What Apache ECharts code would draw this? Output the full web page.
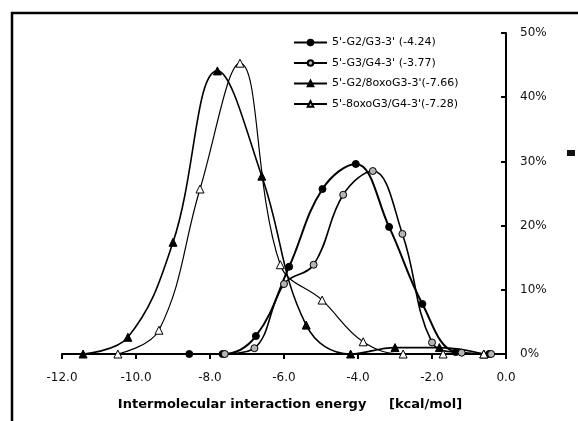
<!DOCTYPE html>
<html>
<head>
<meta charset="utf-8">
<script src="https://cdn.jsdelivr.net/npm/echarts@6/dist/echarts.min.js"></script>
<style>
  html, body { margin: 0; padding: 0; background: #fff; }
  #chart { width: 578px; height: 421px; }
</style>
</head>
<body>
<div id="chart"></div>
<script>
// values (x: kcal/mol, y: %)
var names = [
  "5'-G2/G3-3' (-4.24)",
  "5'-G3/G4-3' (-3.77)",
  "5'-G2/8oxoG3-3'(-7.66)",
  "5'-8oxoG3/G4-3'(-7.28)"
];
var g2g3X = [-8.56, -7.66, -6.76, -5.86, -4.96, -4.06, -3.16, -2.26, -1.36, -0.46];
var g2g3Y = [0, 0, 2.8, 13.6, 25.7, 29.6, 19.8, 7.8, 0.3, 0];
var g3g4X = [-7.6, -6.8, -6.0, -5.2, -4.4, -3.6, -2.8, -2.0, -1.2, -0.4];
var g3g4Y = [0, 0.9, 10.9, 13.9, 24.8, 28.5, 18.7, 1.8, 0.2, 0];
var oxoG3X = [-11.43, -10.22, -9.0, -7.8, -6.6, -5.4, -4.2, -3.0, -1.8, -0.6];
var oxoG3Y = [0, 2.6, 17.4, 44.1, 27.7, 4.5, 0, 1.0, 1.0, 0];
var oxoG4X = [-10.49, -9.38, -8.27, -7.19, -6.1, -4.97, -3.86, -2.78, -1.7, -0.6];
var oxoG4Y = [0, 3.7, 25.7, 45.3, 13.9, 8.4, 1.9, 0, 0, 0];

function pairs(xs, ys) {
  return xs.map(function (x, i) { return [x, ys[i]]; });
}

var font = "DejaVu Sans, Arial, sans-serif";
var chart = echarts.init(document.getElementById("chart"), null, { renderer: "canvas" });

function line(name, xs, ys, symbol, fill, width) {
  return {
    name: name,
    type: "line",
    data: pairs(xs, ys),
    smooth: 0.4,
    symbol: symbol,
    symbolSize: symbol === "triangle" ? 8 : 7,
    showAllSymbol: true,
    lineStyle: { color: "#000", width: width },
    itemStyle: { color: fill, borderColor: "#000", borderWidth: 1 },
    emphasis: { disabled: true },
    z: 3
  };
}

chart.setOption({
  animation: false,
  backgroundColor: "#fff",
  textStyle: { fontFamily: font },
  grid: { left: 62, right: 72, top: 33, bottom: 67, containLabel: false },
  legend: {
    data: names,
    orient: "vertical",
    left: 288,
    top: 32,
    itemWidth: 33,
    itemHeight: 7,
    itemGap: 9.5,
    textStyle: { fontSize: 11, color: "#000", fontFamily: font }
  },
  xAxis: {
    type: "value",
    min: -12,
    max: 0,
    interval: 2,
    name: "Intermolecular interaction energy     [kcal/mol]",
    nameLocation: "middle",
    nameGap: 44,
    nameTextStyle: { fontSize: 13, fontWeight: "bold", color: "#000", padding: [0, 0, 0, 12] },
    axisLine: { onZero: false, lineStyle: { color: "#000", width: 2 } },
    axisTick: { show: true, inside: false, length: 5, lineStyle: { color: "#000", width: 2 } },
    axisLabel: {
      margin: 18,
      fontSize: 12,
      color: "#111",
      formatter: function (v) { return v.toFixed(1); }
    },
    splitLine: { show: false }
  },
  yAxis: {
    type: "value",
    position: "right",
    min: 0,
    max: 50,
    interval: 10,
    axisLine: { show: true, lineStyle: { color: "#000", width: 2 } },
    axisTick: { show: true, inside: true, length: 5, lineStyle: { color: "#000", width: 2 } },
    axisLabel: { margin: 14, fontSize: 12, color: "#111", formatter: "{value}%" },
    splitLine: { show: false }
  },
  graphic: [
    {
      type: "rect",
      shape: { x: 12, y: 13, width: 640, height: 480 },
      style: { fill: "none", stroke: "#000", lineWidth: 2.5 },
      silent: true
    },
    {
      type: "rect",
      shape: { x: 567, y: 150, width: 8, height: 6 },
      style: { fill: "#111" },
      silent: true
    }
  ],
  series: [
    line(names[0], g2g3X, g2g3Y, "circle", "#000", 2),
    line(names[1], g3g4X, g3g4Y, "circle", "#b4b4b4", 1.6),
    line(names[2], oxoG3X, oxoG3Y, "triangle", "#000", 1.6),
    line(names[3], oxoG4X, oxoG4Y, "triangle", "#fff", 1.2)
  ]
});
</script>
</body>
</html>
